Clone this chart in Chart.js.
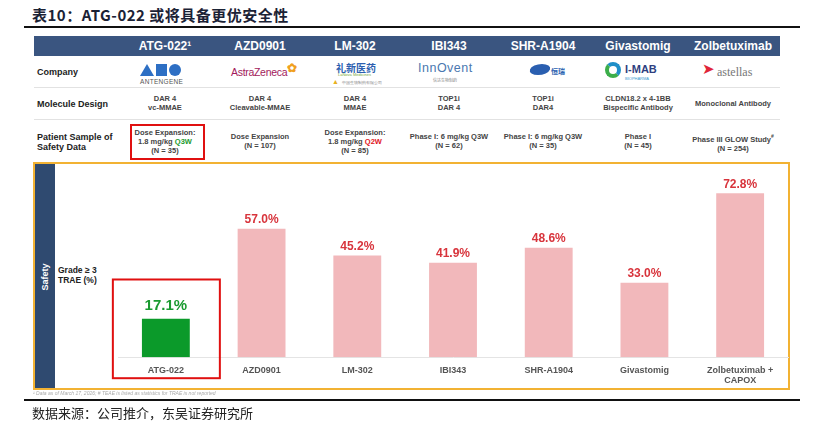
<!DOCTYPE html>
<html>
<head>
<meta charset="utf-8">
<script src="https://cdn.jsdelivr.net/npm/chart.js@4.4.1/dist/chart.umd.min.js"></script>
<style>
  body { margin: 0; width: 832px; height: 432px; background: #fff; overflow: hidden; font-family: "Liberation Sans", Arial, sans-serif; }
  .abs { position: absolute; }
  .title { left: 32px; top: 4px; font: bold 15px "Noto Sans CJK SC", serif; color: #1b2235; letter-spacing: 0.5px; }
  .rule { left: 24px; width: 776px; height: 2px; background: #111; }
  .head { left: 34px; top: 36px; width: 746px; height: 20px; background: #3a5580; }
  .hcell { top: 36px; height: 20px; line-height: 20px; width: 110px; margin-left: -55px; text-align: center; color: #fff; font-weight: bold; font-size: 12px; }
  .rowlab { left: 37px; font-weight: bold; font-size: 9px; color: #222; line-height: 10px; }
  .sep { left: 34px; width: 746px; height: 1px; background: #e2e2e2; }
  .cell { width: 110px; margin-left: -55px; text-align: center; font-weight: bold; font-size: 7.5px; color: #444; line-height: 9px; }
  .redbox { border: 2px solid #e01010; box-sizing: border-box; }
  .box { left: 33px; top: 162px; width: 757px; height: 228px; border: 2px solid #f2b233; box-sizing: border-box; }
  .strip { left: 35px; top: 164px; width: 20px; height: 224px; background: #2f4a70; }
  .safety { left: 45px; top: 277px; transform: translate(-50%, -50%) rotate(-90deg); color: #fff; font-weight: bold; font-size: 9px; }
  .foot { left: 33px; top: 390px; font-style: italic; font-size: 5px; color: #aaa; }
  .src { left: 32px; top: 403px; font: 13px "Noto Sans CJK SC", sans-serif; color: #222; }
</style>
</head>
<body>
<div class="abs title">表10：ATG-022 或将具备更优安全性</div>
<div class="abs rule" style="top:26px"></div>

<div class="abs head"></div>
<div id="table"></div>

<div class="abs box"></div>
<div class="abs strip"></div>
<div class="abs safety">Safety</div>
<div class="abs rowlab" style="top:265px;left:58px;font-size:8.5px">Grade ≥ 3<br>TRAE (%)</div>

<canvas id="safetyChart" class="abs" style="left:0;top:0" width="832" height="432"></canvas>

<div class="abs foot">¹ Data as of March 17, 2026; # TEAE is listed as statistics for TRAE is not reported</div>
<div class="abs rule" style="top:399px"></div>
<div class="abs src">数据来源：公司推介，东吴证券研究所</div>

<script>
// table columns
const drugs = ["ATG-022¹", "AZD0901", "LM-302", "IBI343", "SHR-A1904", "Givastomig", "Zolbetuximab"];
const moleculeDesign = [
  ["DAR 4", "vc-MMAE"],
  ["DAR 4", "Cleavable-MMAE"],
  ["DAR 4", "MMAE"],
  ["TOP1i", "DAR 4"],
  ["TOP1i", "DAR4"],
  ["CLDN18.2 x 4-1BB", "Bispecific Antibody"],
  ["Monoclonal Antibody"]
];
const patientSample = [
  ["Dose Expansion:", "1.8 mg/kg <span style='color:#1a9a2e'>Q3W</span>", "(N = 35)"],
  ["Dose Expansion", "(N = 107)"],
  ["Dose Expansion:", "1.8 mg/kg <span style='color:#e0141c'>Q2W</span>", "(N = 85)"],
  ["Phase I: 6 mg/kg Q3W", "(N = 62)"],
  ["Phase I: 6 mg/kg Q3W", "(N = 35)"],
  ["Phase I", "(N = 45)"],
  ["Phase III GLOW Study<sup style='font-size:5px'>#</sup>", "(N = 254)"]
];

// chart data
const categories = ["ATG-022", "AZD0901", "LM-302", "IBI343", "SHR-A1904", "Givastomig", ["Zolbetuximab +", "CAPOX"]];
const trae = [17.1, 57.0, 45.2, 41.9, 48.6, 33.0, 72.8];

const colX = [165, 260, 355, 449, 543, 638, 733];

// build table
let html = "";
drugs.forEach((d, i) => {
  html += `<div class="abs hcell" style="left:${colX[i]}px">${d}</div>`;
  const m = moleculeDesign[i];
  html += `<div class="abs cell" style="left:${colX[i]}px;top:${m.length == 1 ? 99 : 94}px">${m.join("<br>")}</div>`;
  const p = patientSample[i];
  html += `<div class="abs cell" style="left:${colX[i]}px;top:${p.length == 3 ? 128 : 132}px">${p.join("<br>")}</div>`;
});
html += `<div class="abs rowlab" style="top:67px">Company</div>`;
html += `<div class="abs rowlab" style="top:99px">Molecule Design</div>`;
html += `<div class="abs rowlab" style="top:132px">Patient Sample of<br>Safety Data</div>`;
html += `<div class="abs sep" style="top:87px"></div>`;
html += `<div class="abs sep" style="top:119px"></div>`;
html += `<div class="abs redbox" style="left:130px;top:124px;width:75px;height:36px"></div>`;

// logos (rough)
html += `
<div class="abs" style="left:140px;top:64px;width:0;height:0;border-left:7px solid transparent;border-right:7px solid transparent;border-bottom:12px solid #2d6fc4"></div>
<div class="abs" style="left:156px;top:64px;width:11px;height:12px;background:#2d6fc4"></div>
<div class="abs" style="left:169px;top:64px;width:12px;height:12px;border-radius:50%;background:#2d6fc4"></div>
<div class="abs" style="left:140px;top:78px;font-size:6.5px;color:#555;letter-spacing:0.3px">ANTENGENE</div>
<div class="abs" style="left:231px;top:66px;font-size:10.5px;color:#a3195b;letter-spacing:-0.3px">AstraZeneca</div>
<div class="abs" style="left:287px;top:61px;font-size:12px;color:#f0a020;font-weight:bold">✿</div>
<div class="abs" style="left:336px;top:60px;font:bold 10px 'Noto Sans CJK SC';color:#2d5fb0">礼新医药</div>
<div class="abs" style="left:338px;top:72px;font-size:4px;color:#7aa83a">LaNova Medicines</div>
<div class="abs" style="left:332px;top:78px;font-size:7px;color:#e8b020">▲</div>
<div class="abs" style="left:342px;top:80px;font-size:4px;color:#888">中国生物制药有限公司</div>
<div class="abs" style="left:418px;top:61px;font-size:12.5px;color:#4a78b0;letter-spacing:0.5px">InnOvent</div>
<div class="abs" style="left:433px;top:77px;font:4px 'Noto Sans CJK SC';color:#888">信达生物制药</div>
<div class="abs" style="left:530px;top:64px;width:20px;height:11px;border-radius:50%;background:#2a5fb0;transform:skewX(-20deg)"></div>
<div class="abs" style="left:551px;top:66px;font:bold 7px 'Noto Sans CJK SC';color:#2a5fb0">恒瑞</div>
<div class="abs" style="left:605px;top:62px;width:8px;height:8px;border-radius:50%;border:4px solid #1f8fc8;border-left-color:#3cae4a;border-bottom-color:#3cae4a"></div>
<div class="abs" style="left:625px;top:63px;font-weight:bold;font-size:11px;color:#2f3f80">I-MAB</div>
<div class="abs" style="left:625px;top:76px;font-size:4px;color:#3a9ad0">BIOPHARMA</div>
<div class="abs" style="left:702px;top:60px;font-size:15px;color:#e0243a">➤</div>
<div class="abs" style="left:717px;top:65px;font:12px 'Liberation Serif', serif;color:#777">astellas</div>
`;
document.getElementById("table").innerHTML = html;

const barColors = trae.map((v, i) => i === 0 ? "#0b9a2a" : "#f2b8bb");
const labelColors = trae.map((v, i) => i === 0 ? "#1a9a30" : "#d8343c");

// value labels + red highlight box on the first bar
const valueLabels = {
  id: "valueLabels",
  afterDatasetsDraw(chart) {
    const ctx = chart.ctx;
    const meta = chart.getDatasetMeta(0);
    const yScale = chart.scales.y;
    ctx.save();
    ctx.textAlign = "center";
    ctx.textBaseline = "bottom";
    meta.data.forEach((bar, i) => {
      const big = i === 0;
      ctx.font = `bold ${big ? 15 : 12}px "Liberation Sans", Arial, sans-serif`;
      ctx.fillStyle = labelColors[i];
      ctx.fillText(trae[i].toFixed(1) + "%", bar.x, bar.y - (big ? 5 : 3));
    });
    // highlight box
    const b = meta.data[0];
    const top = yScale.getPixelForValue(34.5);
    ctx.strokeStyle = "#e01010";
    ctx.lineWidth = 2;
    ctx.strokeRect(b.x - 53, top, 107, chart.chartArea.bottom + 21 - top);
    ctx.restore();
  }
};

new Chart(document.getElementById("safetyChart"), {
  type: "bar",
  data: {
    labels: categories,
    datasets: [{ data: trae, backgroundColor: barColors, barPercentage: 0.5, categoryPercentage: 1 }]
  },
  options: {
    responsive: false,
    animation: false,
    layout: { padding: { left: 118, right: 44, top: 177, bottom: 39 } },
    plugins: { legend: { display: false }, tooltip: { enabled: false } },
    scales: {
      x: {
        grid: { display: false, drawTicks: false },
        border: { color: "#e4e4e4" },
        ticks: { color: "#555", font: { size: 9, weight: "bold", lineHeight: 1.1 }, padding: 8, maxRotation: 0 }
      },
      y: { display: false, min: 0, max: 80 }
    }
  },
  plugins: [valueLabels]
});
</script>
</body>
</html>
